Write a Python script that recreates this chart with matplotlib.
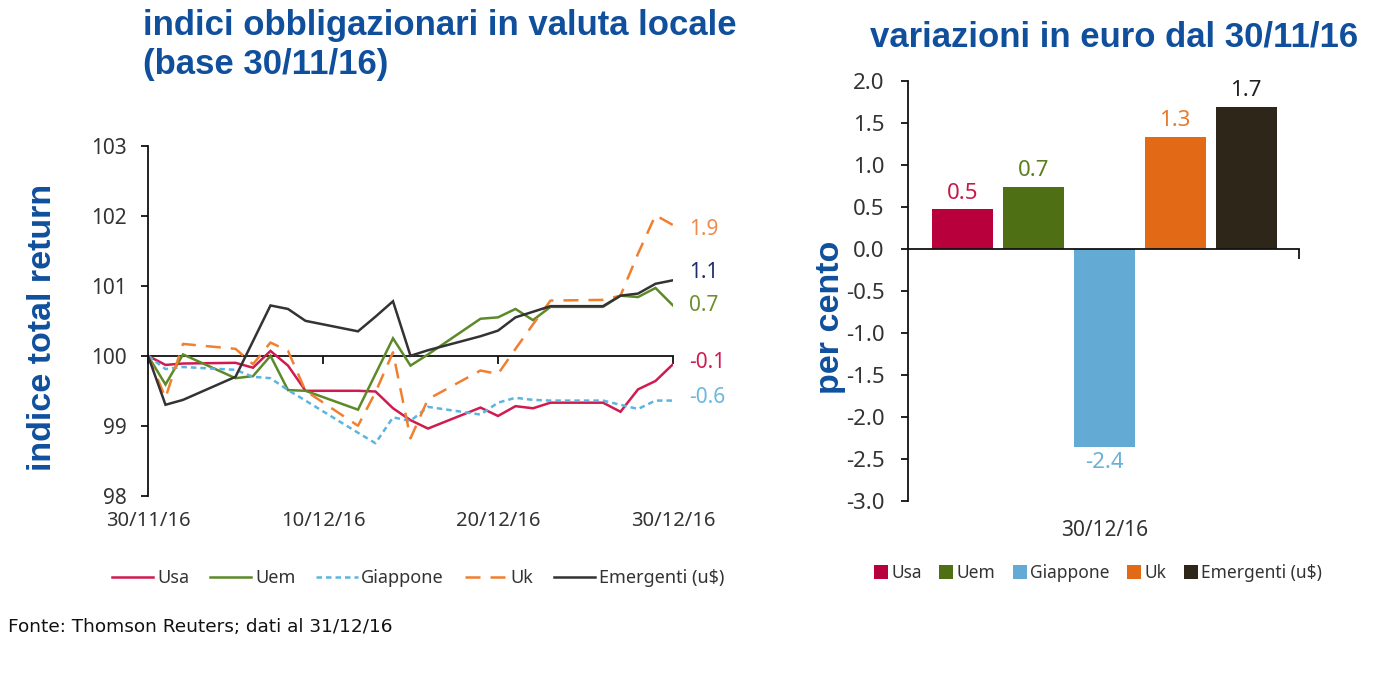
import matplotlib
matplotlib.use("Agg")
import matplotlib.pyplot as plt
import matplotlib.dates as mdates
import matplotlib.transforms as mtransforms
from matplotlib.lines import Line2D
from matplotlib.patches import Patch
import numpy as np
import pandas as pd

# ---------------- data ----------------
dates = ['2016-11-30', '2016-12-01', '2016-12-02', '2016-12-05', '2016-12-06',
         '2016-12-07', '2016-12-08', '2016-12-09', '2016-12-12', '2016-12-13',
         '2016-12-14', '2016-12-15', '2016-12-16', '2016-12-19', '2016-12-20',
         '2016-12-21', '2016-12-22', '2016-12-23', '2016-12-26', '2016-12-27',
         '2016-12-28', '2016-12-29', '2016-12-30']

usa = [100, 99.87, 99.89, 99.90, 99.83, 100.07, 99.86, 99.50, 99.50, 99.49,
       99.25, 99.08, 98.96, 99.26, 99.14, 99.28, 99.25, 99.33, 99.33, 99.20,
       99.52, 99.64, 99.88]
uem = [100, 99.59, 100.02, 99.68, 99.71, 100.00, 99.51, 99.50, 99.23, 99.74,
       100.25, 99.86, 100.02, 100.53, 100.55, 100.67, 100.51, 100.70, 100.70,
       100.86, 100.84, 100.97, 100.72]
giappone = [100, 99.81, 99.84, 99.80, 99.70, 99.68, 99.51, 99.36, 98.90, 98.75,
            99.12, 99.07, 99.27, 99.16, 99.33, 99.40, 99.37, 99.36, 99.36, 99.30,
            99.24, 99.36, 99.36]
uk = [100, 99.40, 100.17, 100.10, 99.88, 100.19, 100.07, 99.50, 99.00, 99.48,
      100.05, 98.82, 99.38, 99.79, 99.74, 100.10, 100.45, 100.79, 100.80, 100.86,
      101.46, 102.01, 101.87]
emergenti = [100, 99.30, 99.37, 99.70, 100.21, 100.72, 100.67, 100.50, 100.35,
             100.56, 100.78, 100.00, 100.08, 100.28, 100.36, 100.55, 100.63,
             100.71, 100.71, 100.86, 100.89, 101.03, 101.08]

series_names = ['Usa', 'Uem', 'Giappone', 'Uk', 'Emergenti (u$)']
line_tick_dates = ['2016-11-30', '2016-12-10', '2016-12-20', '2016-12-30']
line_tick_labels = ['30/11/16', '10/12/16', '20/12/16', '30/12/16']
end_labels = ['1.9', '1.1', '0.7', '-0.1', '-0.6']

bar_categories = ['Usa', 'Uem', 'Giappone', 'Uk', 'Emergenti (u$)']
bar_values = [0.47, 0.74, -2.36, 1.33, 1.69]
bar_xlabel = '30/12/16'

# ---------------- style ----------------
BLUE = '#0F4F9C'
TICK_COLOR = '#333333'
line_colors = ['#D01A50', '#5C8A29', '#5BB5DF', '#F08030', '#333333']
line_styles = ['-', '-', (0, (2.2, 1.6)), (0, (6, 4)), '-']
bar_colors = ['#B8003C', '#4F6F14', '#63ABD4', '#E26A17', '#2E2618']
bar_label_colors = ['#C8184A', '#5B7F1F', '#6AB0D8', '#E87B2C', '#222222']
end_label_colors = ['#F08A4A', '#1C2C6C', '#6C8F2F', '#D01A50', '#6AB8DD']
end_label_y = [101.81, 101.19, 100.72, 99.91, 99.41]
TICKFONT = 'Noto Sans'
TITLEFONT = 'Liberation Sans'

W, H = 1396, 688
fig = plt.figure(figsize=(W / 100, H / 100), dpi=100)
fig.patch.set_facecolor('white')


def fx(px):
    return px / W


def fy(py):
    return 1 - py / H


# ---------------- left: line chart ----------------
ax1 = fig.add_axes([fx(148), fy(495.7), fx(673 - 148), (495.7 - 146) / H])
x = pd.to_datetime(dates)
all_series = [usa, uem, giappone, uk, emergenti]
for s, c, ls in zip(all_series, line_colors, line_styles):
    ax1.plot(x, s, color=c, lw=1.8, linestyle=ls, solid_joinstyle='miter')

ax1.set_xlim(pd.Timestamp(dates[0]), pd.Timestamp(dates[-1]))
ax1.set_ylim(98, 103)
ax1.set_yticks(np.arange(98, 104, 1))
ax1.set_yticklabels([str(v) for v in range(98, 104)])
tick_x = pd.to_datetime(line_tick_dates)
ax1.set_xticks(tick_x)
ax1.set_xticklabels(line_tick_labels)
for sp in ['top', 'right', 'bottom']:
    ax1.spines[sp].set_visible(False)
ax1.spines['left'].set_linewidth(1.3)
ax1.spines['left'].set_color('#111111')
ax1.tick_params(axis='y', direction='out', length=5, width=1.3, color='#111111',
                pad=10, labelsize=15, labelcolor=TICK_COLOR)
ax1.tick_params(axis='x', length=0, pad=11, labelsize=14.5, labelcolor=TICK_COLOR)
for lab in ax1.get_xticklabels() + ax1.get_yticklabels():
    lab.set_fontfamily(TICKFONT)

# axis line at 100 with downward ticks
secax = ax1.secondary_xaxis((100 - 98) / 5)
secax.set_xticks(mdates.date2num(tick_x))
secax.tick_params(axis='x', direction='out', length=6, width=1.3, color='#111111',
                  labelbottom=False, labeltop=False)
secax.spines['bottom'].set_linewidth(1.3)
secax.spines['bottom'].set_color('#111111')

trans = mtransforms.blended_transform_factory(ax1.transAxes, ax1.transData)
for lab, yv, c in zip(end_labels, end_label_y, end_label_colors):
    ax1.text(1.03, yv, lab, transform=trans, ha='left', va='center',
             fontsize=15, color=c, family=TICKFONT)

handles = [Line2D([0], [0], color=c, lw=1.8, linestyle=ls)
           for c, ls in zip(line_colors, line_styles)]
leg1 = fig.legend(handles, series_names, loc='center',
                  bbox_to_anchor=(fx(418), fy(578)), ncol=5, frameon=False,
                  handlelength=2.3, handletextpad=0.2, columnspacing=1.15,
                  prop={'family': TICKFONT, 'size': 13})
for t in leg1.get_texts():
    t.set_color(TICK_COLOR)

# ---------------- right: bar chart ----------------
ax2 = fig.add_axes([fx(908), fy(500.7), fx(1299 - 908), (500.7 - 80.7) / H])
xb = np.arange(len(bar_values))
bars = ax2.bar(xb, bar_values, width=0.86, color=bar_colors, zorder=2)
ax2.set_xlim(-0.763, 4.743)
ax2.set_ylim(-3, 2)
yt = np.arange(-3, 2.01, 0.5)
ax2.set_yticks(yt)
ax2.set_yticklabels([f'{v:.1f}'.replace('\u2212', '-') for v in yt])
for sp in ['top', 'right']:
    ax2.spines[sp].set_visible(False)
ax2.spines['bottom'].set_position(('data', 0))
for sp in ['left', 'bottom']:
    ax2.spines[sp].set_linewidth(1.3)
    ax2.spines[sp].set_color('#111111')
ax2.set_xticks([ax2.get_xlim()[1]])
ax2.set_xticklabels([''])
ax2.tick_params(axis='x', direction='out', length=7, width=1.3, color='#111111')
ax2.tick_params(axis='y', direction='out', length=5, width=1.3, color='#111111',
                pad=12, labelsize=16, labelcolor=TICK_COLOR)
for lab in ax2.get_yticklabels():
    lab.set_fontfamily(TICKFONT)

texts = ax2.bar_label(bars, labels=[f'{v:.1f}' for v in bar_values], padding=4,
                      fontsize=16, family=TICKFONT)
for t, c in zip(texts, bar_label_colors):
    t.set_color(c)

btrans = mtransforms.blended_transform_factory(ax2.transData, ax2.transAxes)
ax2.text(np.mean(xb), -0.07, bar_xlabel, transform=btrans, ha='center', va='center',
         fontsize=15, color=TICK_COLOR, family=TICKFONT)

bhandles = [Patch(facecolor=c, edgecolor='none') for c in bar_colors]
leg2 = fig.legend(bhandles, bar_categories, loc='center',
                  bbox_to_anchor=(fx(1098), fy(573)), ncol=5, frameon=False,
                  handlelength=0.8, handleheight=0.8, handletextpad=0.2,
                  columnspacing=1.0, prop={'family': TICKFONT, 'size': 12.5})
for t in leg2.get_texts():
    t.set_color(TICK_COLOR)

# ---------------- titles & labels ----------------
fig.text(fx(143), fy(45), 'indici obbligazionari in valuta locale\n(base 30/11/16)',
         ha='left', va='center', fontsize=25, fontweight='bold', color=BLUE,
         family=TITLEFONT, linespacing=1.25)
fig.text(fx(1114), fy(37), 'variazioni in euro dal 30/11/16', ha='center',
         va='center', fontsize=25, fontweight='bold', color=BLUE, family=TITLEFONT)
fig.text(fx(43), fy(327), 'indice total return', rotation=90, ha='center',
         va='center', fontsize=24.5, fontweight='bold', color=BLUE, family=TITLEFONT)
fig.text(fx(831), fy(317), 'per cento', rotation=90, ha='center', va='center',
         fontsize=24.5, fontweight='bold', color=BLUE, family=TITLEFONT)
fig.text(fx(8), fy(627), 'Fonte: Thomson Reuters; dati al 31/12/16', ha='left',
         va='center', fontsize=13.3, color='#111111', family='DejaVu Sans')

fig.savefig('out.png', dpi=100, facecolor='white')
